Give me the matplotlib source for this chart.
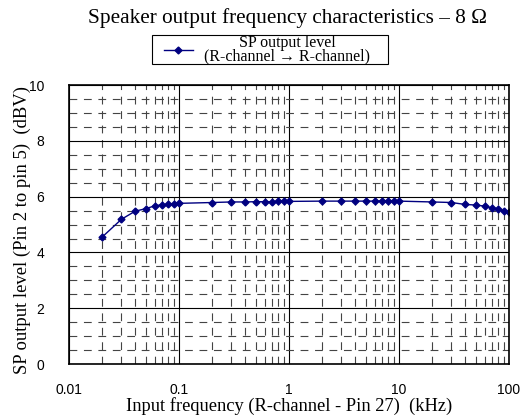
import matplotlib
matplotlib.use("Agg")
import matplotlib.pyplot as plt
from matplotlib.patches import Rectangle
from matplotlib.ticker import FixedLocator, NullFormatter, FixedFormatter

freq_khz = [0.02, 0.03, 0.04, 0.05, 0.06, 0.07, 0.08, 0.09, 0.1,
            0.2, 0.3, 0.4, 0.5, 0.6, 0.7, 0.8, 0.9, 1,
            2, 3, 4, 5, 6, 7, 8, 9, 10,
            20, 30, 40, 50, 60, 70, 80, 90, 100]
level_dbv = [4.55, 5.19, 5.48, 5.57, 5.67, 5.71, 5.73, 5.74, 5.76,
             5.79, 5.81, 5.81, 5.82, 5.82, 5.82, 5.83, 5.83, 5.83,
             5.84, 5.84, 5.84, 5.84, 5.84, 5.84, 5.84, 5.84, 5.84,
             5.81, 5.79, 5.72, 5.70, 5.66, 5.60, 5.56, 5.49, 5.44]

x_ticks = [0.01, 0.1, 1, 10, 100]
x_ticklabels = ["0.01", "0.1", "1", "10", "100"]
y_ticks = [0, 2, 4, 6, 8, 10]

serif = ["Liberation Serif", "DejaVu Serif"]
sans = ["Liberation Sans", "DejaVu Sans"]

fig = plt.figure(figsize=(5.21, 4.17), dpi=100)
ax = fig.add_axes([0.1324, 0.127, 0.8446, 0.669])

ax.plot(freq_khz, level_dbv, color="#000080", marker="D", markersize=3.5,
        linewidth=1.0, label="SP output level\n(R-channel \u2192 R-channel)")

ax.set_xscale("log")
ax.set_xlim(0.01, 100)
ax.set_ylim(0, 10)

ax.xaxis.set_major_locator(FixedLocator(x_ticks))
ax.xaxis.set_major_formatter(FixedFormatter(x_ticklabels))
minors = [m * d for d in [0.01, 0.1, 1, 10] for m in range(2, 10)]
ax.xaxis.set_minor_locator(FixedLocator(minors))
ax.xaxis.set_minor_formatter(NullFormatter())
ax.yaxis.set_major_locator(FixedLocator(y_ticks))
y_minors = [k * 0.5 for k in range(1, 20) if k % 4 != 0]
ax.yaxis.set_minor_locator(FixedLocator(y_minors))

ax.grid(which="major", color="black", linewidth=0.8, linestyle="-")
ax.grid(which="minor", color="#444444", linewidth=0.8, linestyle=(0, (7, 6)))

ax.tick_params(which="both", length=0)
ax.tick_params(axis="x", pad=14, labelsize=10)
ax.tick_params(axis="y", pad=18, labelsize=10)
for lab in ax.get_xticklabels() + ax.get_yticklabels():
    lab.set_fontfamily(sans)

for s in ax.spines.values():
    s.set_linewidth(1.2)

ax.set_xlabel("Input frequency (R-channel - Pin 27)  (kHz)", family=serif, fontsize=13.3, labelpad=0)
ax.set_ylabel("SP output level (Pin 2 to pin 5)  (dBV)", family=serif, fontsize=13.4)
ax.yaxis.set_label_coords(-0.086, 0.48)

fig.text(0.551, 0.957, "Speaker output frequency characteristics \u2013 8 \u03a9",
         family=serif, fontsize=15.3, ha="center", va="center")

# Legendenrahmen separat, damit er breiter als der Inhalt ist
fig.patches.append(Rectangle((152 / 521, 1 - 64 / 417), 236 / 521, 29 / 417,
                             transform=fig.transFigure, fill=False,
                             edgecolor="black", linewidth=0.8))
leg = ax.legend(loc="center", bbox_to_anchor=(0.45, 1.127),
                prop={"family": serif, "size": 11.5}, frameon=False,
                handlelength=1.8, borderpad=0, handletextpad=0.7,
                labelspacing=0.1, borderaxespad=0)
for t in leg.get_texts():
    t.set_multialignment("center")
    t.set_linespacing(0.8)

fig.savefig("out.png", dpi=100)
